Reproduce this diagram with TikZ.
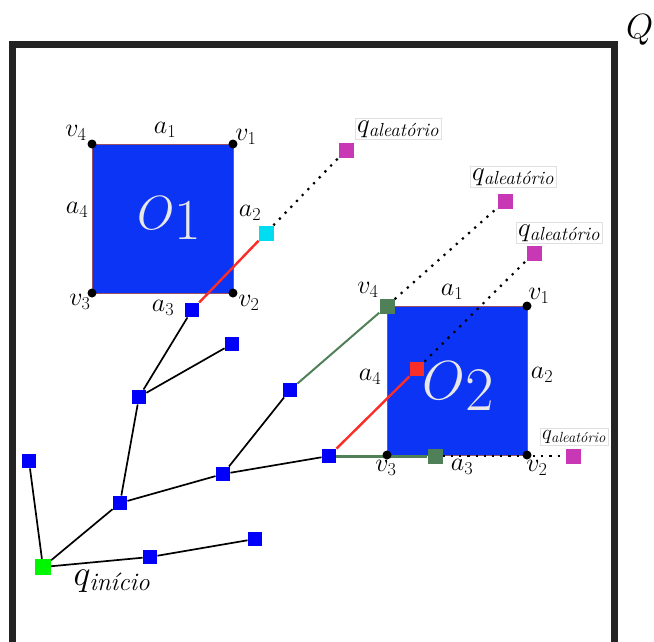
\RequirePackage{fix-cm}
\documentclass[tikz,border=0pt]{standalone}
\usepackage{amsmath}
\usepackage{fontspec}
\definecolor{obstblue}{RGB}{12,52,245}
\definecolor{nodeblue}{RGB}{0,0,250}
\definecolor{randmag}{RGB}{200,55,180}
\definecolor{newcyan}{RGB}{0,220,240}
\definecolor{startgreen}{RGB}{0,245,0}
\definecolor{dgreen}{RGB}{80,128,88}
\definecolor{lred}{RGB}{250,45,40}
\definecolor{framegray}{RGB}{35,35,35}
\definecolor{obstedge}{RGB}{150,80,100}
\definecolor{otext}{RGB}{232,232,232}
\tikzset{
  sq/.style={rectangle, minimum size=14.5pt, inner sep=0pt, fill=nodeblue},
  magsq/.style={rectangle, minimum size=15pt, inner sep=0pt, fill=randmag},
  obst/.style={fill=obstblue, draw=obstedge, line width=0.6pt},
  corner/.style={circle, fill=black, minimum size=9pt, inner sep=0pt},
  lbl/.style={inner sep=0pt, font=\fontsize{26}{30}\selectfont},
  qlbl/.style={draw=black!12, line width=0.8pt, fill=white, inner sep=2pt, font=\fontsize{27}{30}\selectfont},
  tree/.style={line width=1.7pt, black},
  redl/.style={line width=2.4pt, lred},
  greenl/.style={line width=2pt, dgreen},
  dotl/.style={line width=2.2pt, black, dash pattern=on 2.2pt off 6pt},
}
\begin{document}
\begin{tikzpicture}[x=1pt,y=-1pt]
\useasboundingbox (0,0) rectangle (654,641);
% frame Q
\draw[framegray, line width=7pt] (12.5,660) -- (12.5,44) -- (614,44) -- (614,660);
\node[inner sep=0pt, anchor=west, font=\fontsize{35}{36}\selectfont] (Q) at (626,30) {$Q$};

% obstacles
\draw[obst] (92,144) rectangle (233,293);
\draw[obst] (387,306) rectangle (527,455);
\coordinate (A4) at (92,144); \coordinate (A1) at (233,144);
\coordinate (A2) at (233,293); \coordinate (A3) at (92,293);
\coordinate (B4) at (387,306); \coordinate (B1) at (527,306);
\coordinate (B2) at (527,455); \coordinate (B3) at (387,455);

\node[inner sep=0pt, text=otext] (O1) at (169,218) {\fontsize{48}{50}\selectfont$O$\raisebox{-10pt}{\fontsize{58}{60}\selectfont 1}};
\node[inner sep=0pt, text=otext] (O2) at (458,386) {\fontsize{55}{58}\selectfont$O$\raisebox{-11pt}{\fontsize{62}{64}\selectfont 2}};

% labels O1
\node[lbl] (l1v4) at (76,133) {$v_4$};
\node[lbl] (l1a1) at (165,130) {$a_1$};
\node[lbl] (l1v1) at (246,137) {$v_1$};
\node[lbl] (l1a4) at (77,210) {$a_4$};
\node[lbl] (l1a2) at (250,213) {$a_2$};
\node[lbl] (l1v3) at (80,302) {$v_3$};
\node[lbl] (l1a3) at (163,308) {$a_3$};
\node[lbl] (l1v2) at (249,303) {$v_2$};
% labels O2
\node[lbl] (l2v4) at (368,290) {$v_4$};
\node[lbl] (l2a1) at (452,292) {$a_1$};
\node[lbl] (l2v1) at (539,296) {$v_1$};
\node[lbl] (l2a4) at (370,377) {$a_4$};
\node[lbl] (l2a2) at (542,375) {$a_2$};
\node[lbl] (l2v3) at (386,468) {$v_3$};
\node[lbl] (l2a3) at (462,467) {$a_3$};
\node[lbl] (l2v2) at (537,468) {$v_2$};

% tree nodes
\node[sq, fill=startgreen, minimum size=16pt] (s) at (43,567) {};
\node[sq] (n4) at (29,461) {};
\node[sq] (n5) at (120,503) {};
\node[sq] (n9) at (150,557) {};
\node[sq] (n10) at (255,539) {};
\node[sq] (n3) at (139,397) {};
\node[sq] (n1) at (192,310) {};
\node[sq] (n2) at (232,344) {};
\node[sq] (n6) at (223,474) {};
\node[sq] (n7) at (290,390) {};
\node[sq] (n8) at (329,456) {};
\node[sq, fill=newcyan, minimum size=15pt] (c1) at (266,233) {};
\node[sq, fill=lred] (r1) at (417,369) {};
\node[sq, fill=dgreen, minimum size=15pt] (g4) at (387,306) {};
\node[sq, fill=dgreen, minimum size=15pt] (g3) at (435,456) {};
\node[magsq] (m1) at (346,150) {};
\node[magsq] (m2) at (505,201) {};
\node[magsq] (m3) at (534,253) {};
\node[magsq] (m4) at (573,456) {};

% tree edges
\draw[tree] (s) -- (n4);
\draw[tree] (s) -- (n5);
\draw[tree] (s) -- (n9);
\draw[tree] (n9) -- (n10);
\draw[tree] (n5) -- (n3);
\draw[tree] (n3) -- (n1);
\draw[tree] (n3) -- (n2);
\draw[tree] (n5) -- (n6);
\draw[tree] (n6) -- (n7);
\draw[tree] (n6) -- (n8);
\draw[redl] (n1) -- (c1);
\draw[redl] (n8) -- (r1);
\draw[greenl] (n7) -- (g4);
\draw[greenl, line width=3pt] (n8) -- (g3);
% dotted extensions
\draw[dotl] (c1) -- (m1);
\draw[dotl] (g4) -- (m2);
\draw[dotl] (r1) -- (m3);
\draw[dotl] (g3) -- (m4);

% corner dots
\foreach \c in {A1,A2,A3,A4,B1,B2,B3} \node[corner] at (\c) {};

% random sample labels
\node[qlbl] (q1) at (398,129) {$q_{\textit{aleatório}}$};
\node[qlbl] (q2) at (513,177) {$q_{\textit{aleatório}}$};
\node[qlbl] (q3) at (559,233) {$q_{\textit{aleatório}}$};
\node[qlbl, font=\fontsize{21}{24}\selectfont] (q4) at (574,437) {$q_{\textit{aleatório}}$};
\node[inner sep=0pt, font=\fontsize{36}{40}\selectfont] (qs) at (112,581) {$q_{\textit{início}}$};
\end{tikzpicture}
\end{document}
